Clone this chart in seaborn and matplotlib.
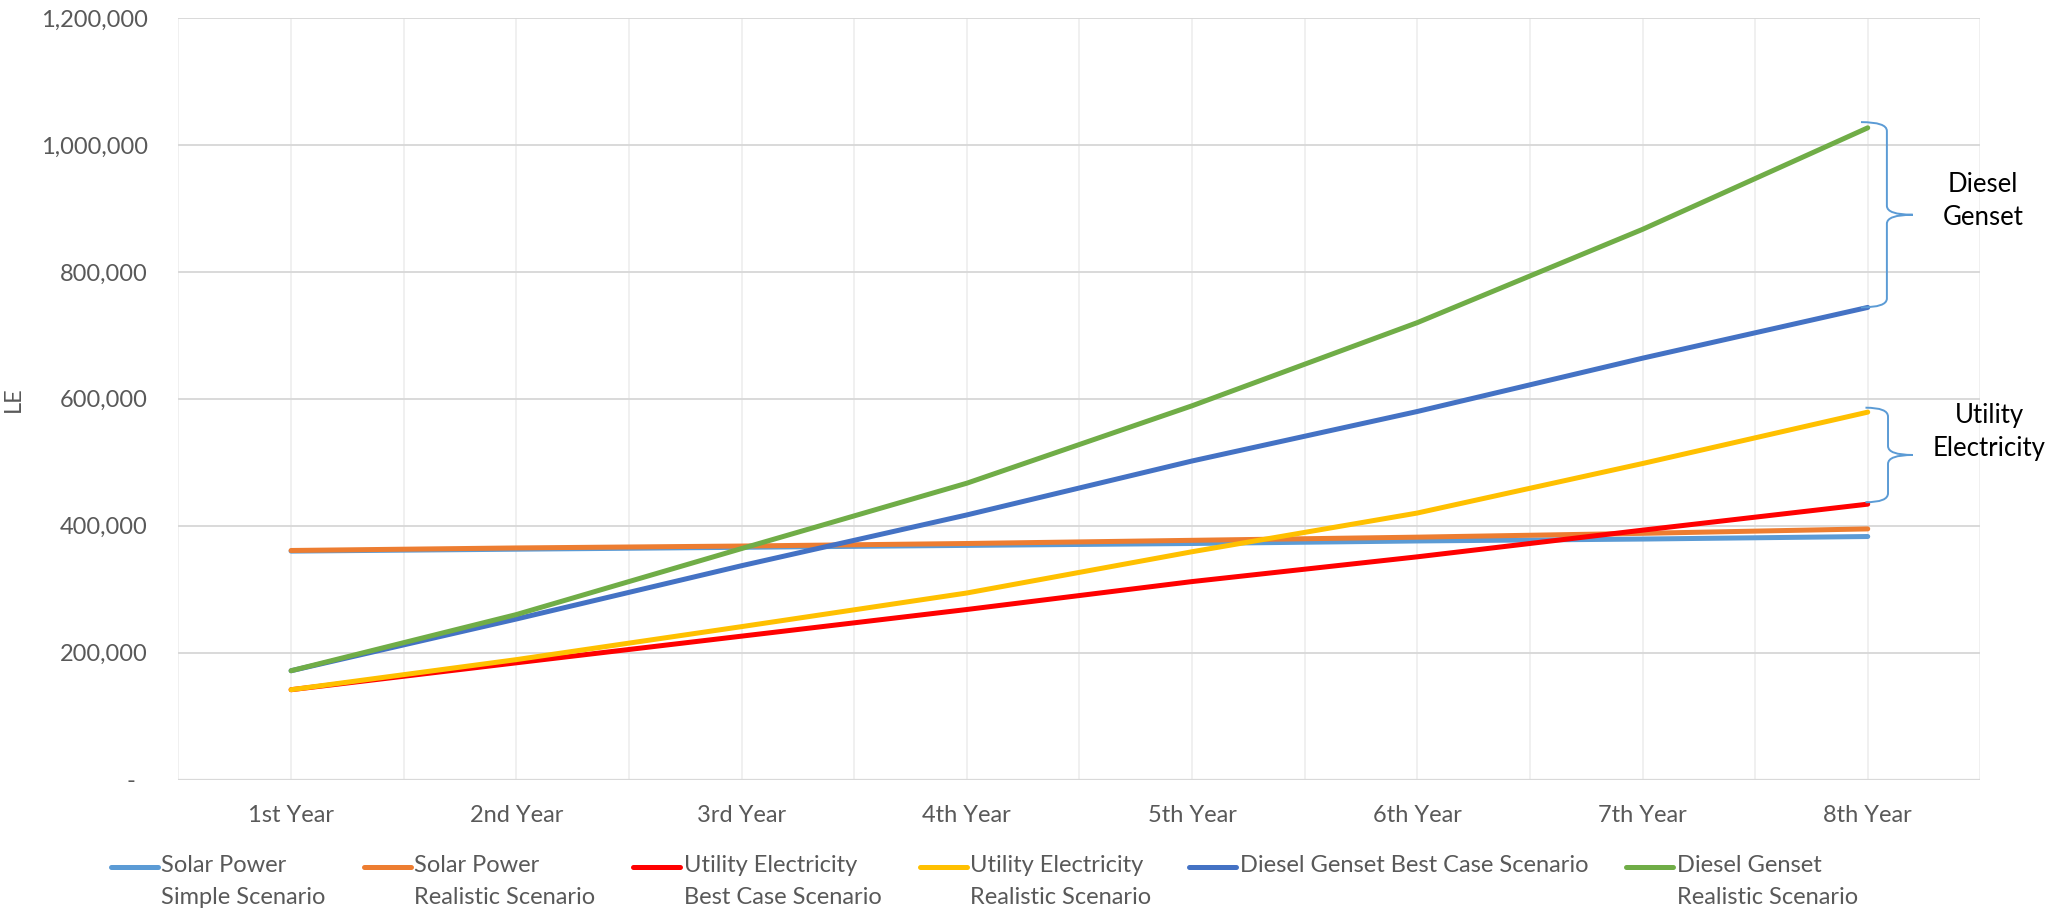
import numpy as np
import pandas as pd
import matplotlib
matplotlib.use("Agg")
import matplotlib.pyplot as plt
import seaborn as sns
from matplotlib.lines import Line2D
from matplotlib.legend_handler import HandlerLine2D
from matplotlib.path import Path
from matplotlib.patches import PathPatch
from matplotlib.ticker import FuncFormatter, MultipleLocator

# ---- data (LE per year) ----
years = ["1st Year", "2nd Year", "3rd Year", "4th Year",
         "5th Year", "6th Year", "7th Year", "8th Year"]
solar_simple = [360000, 363000, 366000, 369000, 372000, 376000, 379000, 383000]
solar_realistic = [361000, 365000, 368000, 372000, 377000, 382000, 388000, 395000]
utility_best = [141600, 184000, 226000, 268000, 312000, 351000, 393000, 434000]
utility_realistic = [141600, 189000, 241000, 294000, 359000, 420000, 498000, 579000]
diesel_best = [171500, 253000, 337000, 417000, 502000, 580000, 664000, 744000]
diesel_realistic = [171500, 260000, 364000, 467000, 589000, 720000, 867000, 1027000]

series_names = ["Solar Power\nSimple Scenario",
                "Solar Power\nRealistic Scenario",
                "Utility Electricity\nBest Case Scenario",
                "Utility Electricity\nRealistic Scenario",
                "Diesel Genset Best Case Scenario",
                "Diesel Genset\nRealistic Scenario"]
series_values = [solar_simple, solar_realistic, utility_best,
                 utility_realistic, diesel_best, diesel_realistic]
colors = ["#5B9BD5", "#ED7D31", "#FF0000", "#FFC000", "#4472C4", "#70AD47"]

df = pd.DataFrame({
    "Year": years * len(series_names),
    "LE": np.concatenate(series_values),
    "Series": np.repeat(series_names, len(years)),
})

sns.set_theme(style="white")
plt.rcParams["font.family"] = ["Lato", "DejaVu Sans"]

TEXT_GREY = "#595959"
LW = 3.6
LEGEND_FS = 17
LEGEND_LINESPACING = 1.65

fig = plt.figure(figsize=(20.49, 9.15), dpi=100)
ax = fig.add_axes([0.0871, 0.1480, 0.8794, 0.8323])

sns.lineplot(data=df, x="Year", y="LE", hue="Series", hue_order=series_names,
             palette=colors, linewidth=LW, sort=False, legend=False, ax=ax,
             solid_capstyle="round")

ax.set_xlim(-0.5, len(years) - 0.5)
ax.set_ylim(0, 1_200_000)
ax.yaxis.set_major_locator(MultipleLocator(200_000))
ax.yaxis.set_major_formatter(FuncFormatter(lambda v, p: f"{v:,.0f}" if v else "-  "))
ax.set_xticks(np.arange(-0.5, len(years), 1.0), minor=True)

ax.grid(axis="y", color="#D9D9D9", linewidth=1.4)
ax.grid(axis="x", which="both", color="#EEEEEE", linewidth=1.2)
ax.set_axisbelow(True)
for s in ax.spines.values():
    s.set_visible(False)
ax.axhline(0, color="#D9D9D9", linewidth=1.6, zorder=1)

ax.tick_params(axis="both", which="both", length=0, labelsize=17, labelcolor=TEXT_GREY)
ax.tick_params(axis="y", pad=22)
ax.tick_params(axis="x", pad=18.5)
ax.set_xlabel("")
ax.set_ylabel("LE", fontsize=17, color=TEXT_GREY)
ax.yaxis.set_label_coords(-0.086, 0.5)


def brace(top, bottom, x_end, x_spine, x_tip, r):
    mid = (top + bottom) / 2
    verts = [(x_end, top),
             (x_spine, top), (x_spine, top - r),
             (x_spine, mid + r),
             (x_spine, mid), (x_tip, mid),
             (x_tip, mid),
             (x_spine, mid), (x_spine, mid - r),
             (x_spine, bottom + r),
             (x_spine, bottom), (x_end, bottom)]
    codes = [Path.MOVETO,
             Path.CURVE3, Path.CURVE3,
             Path.LINETO,
             Path.CURVE3, Path.CURVE3,
             Path.MOVETO,
             Path.CURVE3, Path.CURVE3,
             Path.LINETO,
             Path.CURVE3, Path.CURVE3]
    ax.add_patch(PathPatch(Path(verts, codes), fill=False, edgecolor="#5B9BD5",
                           linewidth=1.4, clip_on=False, zorder=5))


brace(diesel_realistic[-1] + 9000, diesel_best[-1], 6.97, 7.085, 7.2, 14000)
brace(utility_realistic[-1] + 7000, utility_best[-1] + 3000, 6.99, 7.09, 7.2, 14000)

ax.text(7.513, 912000, "Diesel\nGenset", ha="center", va="center",
        fontsize=18.5, color="black", linespacing=1.4)
ax.text(7.54, 548000, "Utility\nElectricity", ha="center", va="center",
        fontsize=18.5, color="black", linespacing=1.4)


class FirstLineHandler(HandlerLine2D):
    """Line handle raised to sit beside the first line of a two-line label."""

    def __init__(self, shift_pt, **kw):
        super().__init__(**kw)
        self.shift_pt = shift_pt

    def create_artists(self, legend, orig_handle, xdescent, ydescent,
                       width, height, fontsize, trans):
        artists = super().create_artists(legend, orig_handle, xdescent, ydescent,
                                         width, height, fontsize, trans)
        for a in artists:
            if isinstance(a, Line2D):
                a.set_ydata(np.asarray(a.get_ydata(), dtype=float) + self.shift_pt)
        return artists


handles = [Line2D([], [], color=c, linewidth=LW, solid_capstyle="round") for c in colors]
labels = [n if "\n" in n else n + "\n " for n in series_names]
shift = 0.5 * LEGEND_FS * 0.72 * LEGEND_LINESPACING
leg = fig.legend(handles, labels, loc="upper left", bbox_to_anchor=(0.054, 0.066),
                 ncol=6, frameon=False, fontsize=LEGEND_FS, handlelength=2.0,
                 handletextpad=0.15, columnspacing=1.6, borderaxespad=0,
                 borderpad=0,
                 handler_map={Line2D: FirstLineHandler(shift)})
for t in leg.get_texts():
    t.set_color(TEXT_GREY)
    t.set_linespacing(LEGEND_LINESPACING)

fig.savefig("out.png", dpi=100, facecolor="white")
